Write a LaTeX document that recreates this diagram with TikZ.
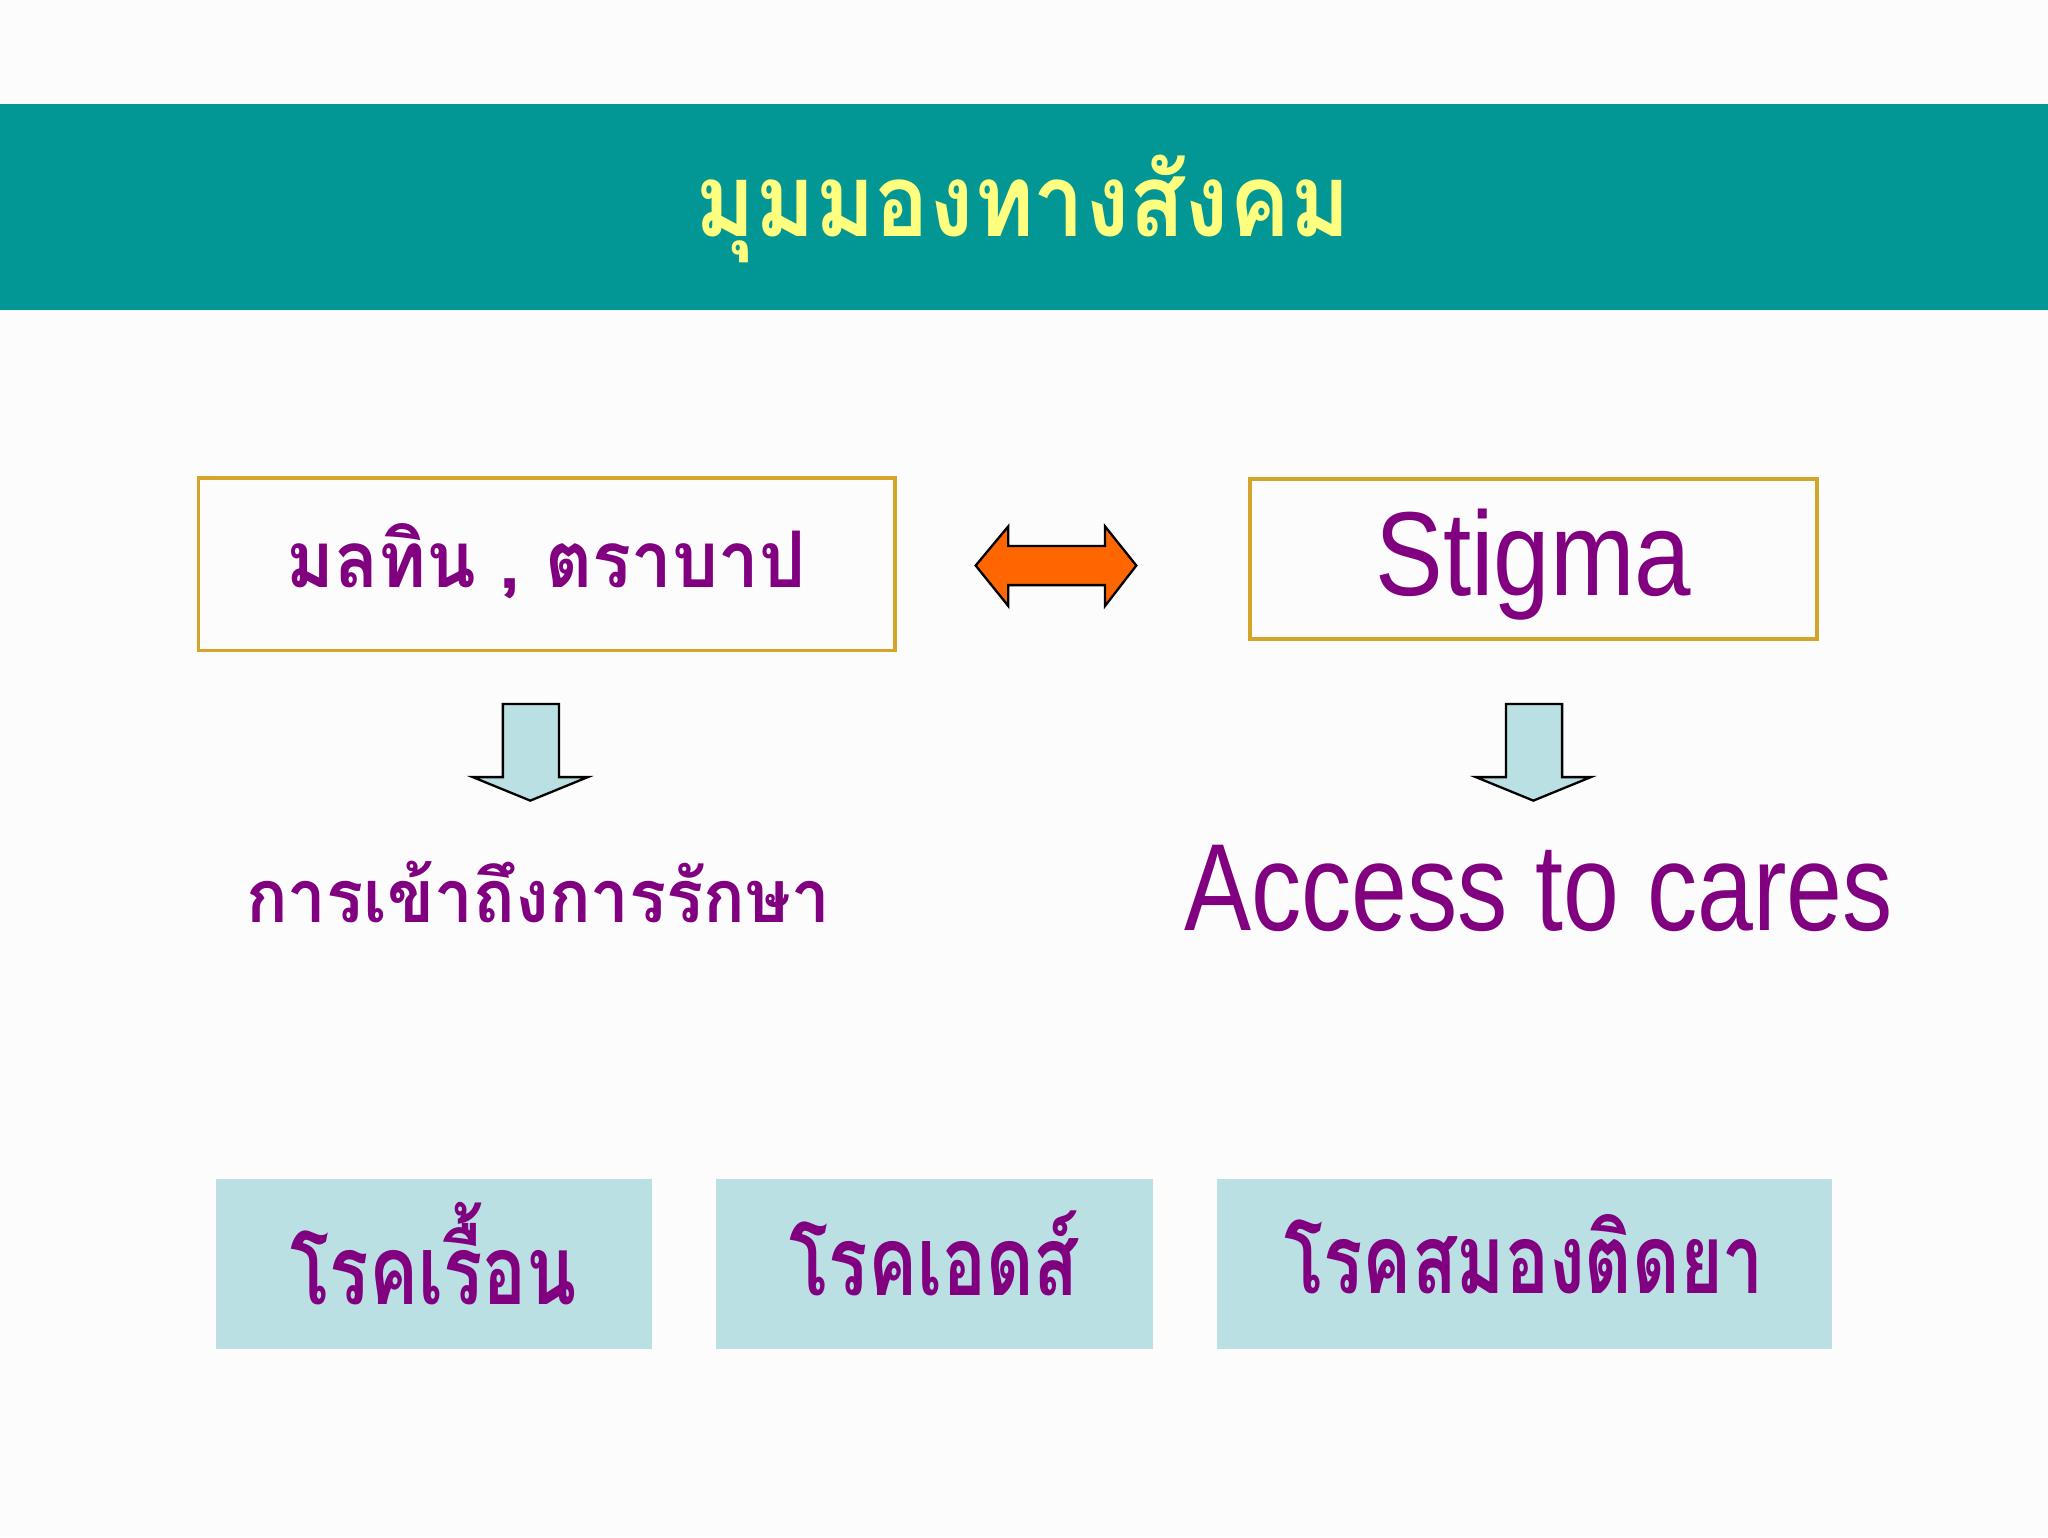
\documentclass[tikz,border=0pt]{standalone}
\usepackage{fontspec}
\setmainfont{Liberation Sans}
\newfontfamily\thaifont[Script=Thai]{Loma}
\definecolor{teal1}{HTML}{029794}
\definecolor{gold1}{HTML}{D4A52A}
\definecolor{purp}{HTML}{800080}
\definecolor{lblue}{HTML}{BAE0E3}
\definecolor{ylw}{HTML}{FFFF80}
\definecolor{orng}{HTML}{FF6600}
\begin{document}
\begin{tikzpicture}[x=0.01cm,y=-0.01cm,
  goldbox/.style={draw=gold1,line width=0.8pt},
  bluebox/.style={fill=lblue},
  ptext/.style={text=purp,font=\thaifont\bfseries\fontsize{17}{20}\selectfont},
  darrow/.style={fill=lblue,draw=black,line width=0.5pt}]
\useasboundingbox (0,0) rectangle (1568,1177);
\fill[white!98!gray] (0,0) rectangle (1568,1177);
\fill[teal1] (0,80) rectangle (1568,237);
\node[text=ylw,xscale=0.9,font=\thaifont\bfseries\fontsize{22}{26}\selectfont] (title) at (783,160) {มุมมองทางสังคม};
\draw[goldbox] (152,366) rectangle (685,498);
\node[ptext,xscale=0.93] (b1) at (418,430) {มลทิน , ตราบาป};
\draw[goldbox] (957,367) rectangle (1391,489);
\node[text=purp,xscale=0.85,font=\fontsize{26}{30}\selectfont] (b2) at (1174,432) {Stigma};
\draw[fill=orng,draw=black,line width=0.5pt] (747,433) -- (772,403) -- (772,418) -- (846,418) -- (846,403) -- (870,433) -- (846,464) -- (846,448) -- (772,448) -- (772,464) -- cycle;
\foreach \cx in {406,1174}{
\draw[darrow] (\cx-21,539) -- (\cx+22,539) -- (\cx+22,595) -- (\cx+44,595) -- (\cx,613) -- (\cx-44,595) -- (\cx-21,595) -- cycle;}
\node[ptext,xscale=0.94,font=\thaifont\bfseries\fontsize{16}{20}\selectfont] (t1) at (412,683) {การเข้าถึงการรักษา};
\node[text=purp,xscale=0.81,font=\fontsize{27}{32}\selectfont] (t2) at (1178,680) {Access to cares};
\fill[bluebox] (165,903) rectangle (499,1033);
\fill[bluebox] (548,903) rectangle (883,1033);
\fill[bluebox] (932,903) rectangle (1403,1033);
\node[ptext,xscale=0.76,font=\thaifont\bfseries\fontsize{21}{24}\selectfont] (c1) at (332,960) {โรคเรื้อน};
\node[ptext,xscale=0.76,font=\thaifont\bfseries\fontsize{21}{24}\selectfont] (c2) at (715,960) {โรคเอดส์};
\node[ptext,xscale=0.76,font=\thaifont\bfseries\fontsize{21}{24}\selectfont] (c3) at (1167,960) {โรคสมองติดยา};
\end{tikzpicture}
\end{document}
